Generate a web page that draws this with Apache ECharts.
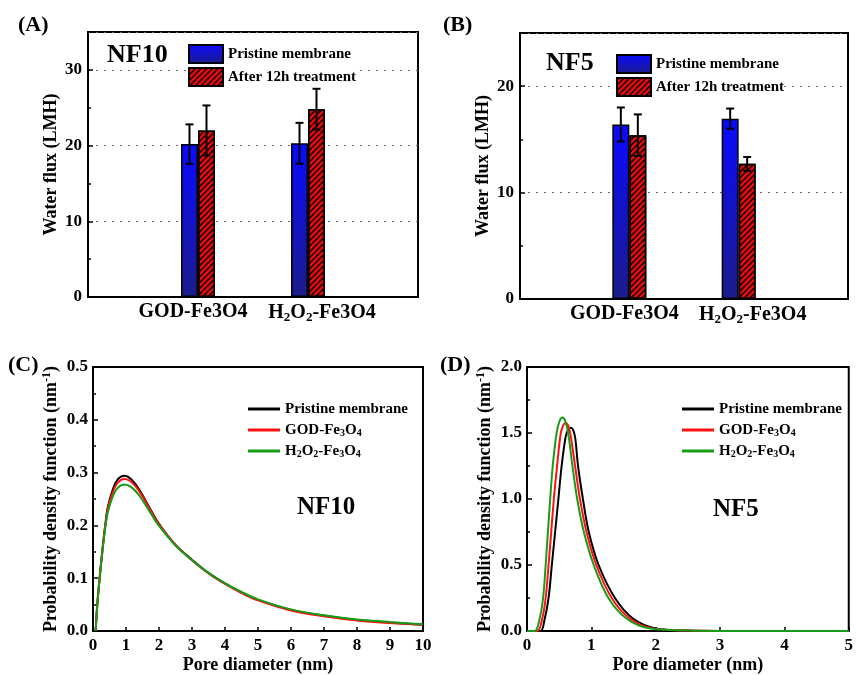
<!DOCTYPE html>
<html>
<head>
<meta charset="utf-8">
<script src="https://cdn.jsdelivr.net/npm/echarts@6/dist/echarts.min.js"></script>
<style>
  html, body { margin: 0; padding: 0; background: #fff; }
  #chart { width: 856px; height: 675px; }
</style>
</head>
<body>
<div id="chart"></div>
<script>
// bar categories (empty slots at both ends so groups sit at 1/3 and 2/3)
const barCats = ['', 'GOD', 'H2O2', ''];
const barLegend = ['Pristine membrane', 'After 12h treatment'];

// NF10 water flux (LMH)
const nf10Pristine = [null, 20.2, 20.3, null];
const nf10PristineErr = [null, 2.6, 2.7, null];
const nf10Treated = [null, 22.0, 24.8, null];
const nf10TreatedErr = [null, 3.3, 2.7, null];

// NF5 water flux (LMH)
const nf5Pristine = [null, 16.4, 16.95, null];
const nf5PristineErr = [null, 1.6, 0.95, null];
const nf5Treated = [null, 15.4, 12.7, null];
const nf5TreatedErr = [null, 1.95, 0.65, null];

// pore size distribution, [pore diameter nm, pdf nm^-1]
const nf10Black = [[0.08,0],[0.13,0.05],[0.2,0.1],[0.28,0.15],[0.37,0.2],[0.45,0.235],[0.6,0.268],[0.75,0.287],[0.95,0.294],[1.15,0.288],[1.4,0.268],[1.7,0.235],[2.0,0.203],[2.5,0.163],[3.0,0.135],[3.5,0.11],[4.0,0.09],[4.5,0.073],[5,0.059],[6,0.04],[7,0.029],[8,0.021],[9,0.016],[10,0.012]];
const nf10Red = [[0.08,0],[0.13,0.05],[0.2,0.1],[0.28,0.15],[0.37,0.198],[0.45,0.232],[0.6,0.263],[0.75,0.281],[0.95,0.288],[1.15,0.283],[1.4,0.265],[1.7,0.233],[2.0,0.202],[2.5,0.163],[3,0.134],[3.5,0.109],[4,0.089],[4.5,0.072],[5,0.058],[6,0.039],[7,0.028],[8,0.02],[9,0.015],[10,0.012]];
const nf10Green = [[0.08,0],[0.13,0.049],[0.2,0.098],[0.28,0.148],[0.37,0.195],[0.45,0.225],[0.6,0.255],[0.75,0.271],[0.95,0.2775],[1.15,0.273],[1.4,0.257],[1.7,0.228],[2.0,0.199],[2.5,0.162],[3,0.134],[3.5,0.11],[4,0.09],[4.5,0.074],[5,0.06],[6,0.041],[7,0.03],[8,0.022],[9,0.017],[10,0.013]];

const nf5Black = [[0,0],[0.21,0],[0.27,0.08],[0.335,0.25],[0.386,0.5],[0.437,0.75],[0.488,1.0],[0.538,1.25],[0.6,1.47],[0.64,1.525],[0.68,1.54],[0.715,1.525],[0.75,1.46],[0.793,1.25],[0.869,1.0],[0.96,0.75],[1.113,0.5],[1.367,0.25],[1.646,0.095],[2.0,0.02],[2.5,0.003],[3,0],[5,0]];
const nf5Red = [[0,0],[0.16,0],[0.23,0.08],[0.29,0.25],[0.335,0.5],[0.376,0.75],[0.417,1.0],[0.467,1.25],[0.525,1.5],[0.565,1.56],[0.6,1.575],[0.64,1.555],[0.675,1.49],[0.747,1.25],[0.823,1.0],[0.925,0.75],[1.077,0.5],[1.316,0.25],[1.596,0.095],[1.95,0.02],[2.5,0.003],[3,0],[5,0]];
const nf5Green = [[0,0],[0.12,0],[0.19,0.08],[0.25,0.25],[0.29,0.5],[0.325,0.75],[0.36,1.0],[0.40,1.25],[0.46,1.5],[0.51,1.595],[0.553,1.617],[0.595,1.59],[0.64,1.5],[0.706,1.25],[0.78,1.0],[0.884,0.75],[1.037,0.5],[1.265,0.25],[1.545,0.095],[1.9,0.02],[2.5,0.003],[3,0],[5,0]];

const FONT = 'Liberation Serif';
const bold = (size) => ({ fontFamily: FONT, fontWeight: 'bold', fontSize: size, color: '#000' });

const blueFill = {
  type: 'linear', x: 0, y: 0, x2: 0, y2: 1,
  colorStops: [{ offset: 0, color: '#0a0aff' }, { offset: 1, color: '#1c1c8c' }]
};
const hatch = {
  symbol: 'rect', symbolSize: 1, color: 'rgba(30,0,0,0.9)',
  dashArrayX: [1, 0], dashArrayY: [1.5, 1.8], rotation: -Math.PI / 4
};

// x labels with subscripts; the labels in the figure sit a bit off the bar groups
const barLabelRich = {
  g: Object.assign(bold(20), { padding: [0, 10, 0, 0] }),
  h: Object.assign(bold(20), { padding: [0, 0, 0, 28] }),
  b: bold(20),
  s: Object.assign(bold(13), { padding: [9, 0, 0, 0] })
};
function barLabel(v) {
  if (v === 'GOD') return '{g|GOD-Fe3O4}';
  if (v === 'H2O2') return '{h|H}{s|2}{b|O}{s|2}{b|-Fe3O4}';
  return '';
}
const lineNames = { Pristine: 'Pristine membrane', GOD: 'GOD-Fe{s|3}O{s|4}', H2O2: 'H{s|2}O{s|2}-Fe{s|3}O{s|4}' };

function barXAxis(idx) {
  return {
    gridIndex: idx, type: 'category', data: barCats, boundaryGap: false,
    axisLine: { lineStyle: { color: '#000', width: 2 } },
    axisTick: { show: false },
    axisLabel: { interval: 0, margin: 5, formatter: barLabel, rich: barLabelRich, color: '#000' },
    splitLine: { show: false }
  };
}
function barYAxis(idx, max) {
  return {
    gridIndex: idx, type: 'value', min: 0, max: max, interval: 10,
    name: 'Water flux (LMH)', nameLocation: 'middle', nameGap: 28, nameTextStyle: bold(18),
    axisLine: { show: true, lineStyle: { color: '#000', width: 2 } },
    axisTick: { show: true, inside: true, length: 5, lineStyle: { color: '#000', width: 1.5 } },
    minorTick: { show: true, splitNumber: 2, length: 3, lineStyle: { color: '#000', width: 1.5 } },
    axisLabel: Object.assign(bold(17), { margin: 6, showMaxLabel: false }),
    splitLine: { show: true, lineStyle: { color: '#666', width: 1.2, type: [2, 6] } }
  };
}
function pdfXAxis(idx, max) {
  return {
    gridIndex: idx, type: 'value', min: 0, max: max, interval: 1,
    name: 'Pore diameter (nm)', nameLocation: 'middle', nameGap: 25, nameTextStyle: bold(18),
    axisLine: { onZero: false, lineStyle: { color: '#000', width: 2 } },
    axisTick: { inside: true, length: 4, lineStyle: { color: '#000', width: 1.5 } },
    axisLabel: Object.assign(bold(17), { margin: 6 }),
    splitLine: { show: false }
  };
}
function pdfYAxis(idx, max, interval) {
  return {
    gridIndex: idx, type: 'value', min: 0, max: max, interval: interval,
    name: 'Probability density function (nm{sup|-1})', nameLocation: 'middle', nameGap: 31,
    nameTextStyle: Object.assign(bold(18), { rich: { sup: Object.assign(bold(12), { padding: [0, 0, 9, 0] }) } }),
    axisLine: { show: true, lineStyle: { color: '#000', width: 2 } },
    axisTick: { show: true, inside: true, length: 5, lineStyle: { color: '#000', width: 1.5 } },
    minorTick: { show: true, splitNumber: 2, length: 3, lineStyle: { color: '#000', width: 1.5 } },
    axisLabel: Object.assign(bold(17), { margin: 5, formatter: (v) => v.toFixed(1) }),
    splitLine: { show: false }
  };
}

function barSeries(idx, name, vals, style) {
  return {
    type: 'bar', name: name, xAxisIndex: idx, yAxisIndex: idx, data: vals,
    barWidth: 17, barGap: '0%', z: 2,
    itemStyle: Object.assign({ borderColor: '#000', borderWidth: 1.5 }, style)
  };
}
function errSeries(idx, vals, errs, shift) {
  const data = [];
  vals.forEach((v, i) => { if (v != null) data.push([i, v, errs[i]]); });
  return {
    type: 'custom', xAxisIndex: idx, yAxisIndex: idx, z: 5, silent: true, data: data,
    renderItem: function (params, api) {
      const top = api.coord([api.value(0), api.value(1) + api.value(2)]);
      const bot = api.coord([api.value(0), api.value(1) - api.value(2)]);
      const x = top[0] + shift;
      const cap = 4;
      const st = { stroke: '#000', lineWidth: 2 };
      return {
        type: 'group', children: [
          { type: 'line', shape: { x1: x, y1: top[1], x2: x, y2: bot[1] }, style: st },
          { type: 'line', shape: { x1: x - cap, y1: top[1], x2: x + cap, y2: top[1] }, style: st },
          { type: 'line', shape: { x1: x - cap, y1: bot[1], x2: x + cap, y2: bot[1] }, style: st }
        ]
      };
    }
  };
}
function pdfSeries(idx, name, color, data) {
  return {
    type: 'line', name: name, xAxisIndex: idx, yAxisIndex: idx, data: data,
    symbol: 'none', showSymbol: false, smooth: 0.35,
    lineStyle: { color: color, width: 2 }, itemStyle: { color: color }
  };
}

const titleAt = (text, left, top, size) => ({ text: text, left: left, top: top, padding: 0, textStyle: bold(size) });

function barLegendAt(left, top) {
  return {
    data: barLegend, orient: 'vertical', left: left, top: top, padding: 0, icon: 'rect',
    itemWidth: 34, itemHeight: 18, itemGap: 3, backgroundColor: '#fff',
    selectedMode: false, textStyle: bold(15)
  };
}
function lineLegendAt(left, top) {
  return {
    data: ['Pristine', 'GOD', 'H2O2'], orient: 'vertical', left: left, top: top, padding: 0,
    icon: 'rect', itemWidth: 32, itemHeight: 3, itemGap: 3, selectedMode: false,
    formatter: (n) => lineNames[n],
    textStyle: Object.assign(bold(15), { lineHeight: 18, rich: { s: Object.assign(bold(10), { padding: [7, 0, 0, 0] }) } })
  };
}

const gridBox = { show: true, borderColor: '#000', borderWidth: 2, backgroundColor: 'transparent' };

const option = {
  animation: false,
  textStyle: { fontFamily: FONT },
  title: [
    titleAt('(A)', 18, 14, 22), titleAt('(B)', 443, 14, 22),
    titleAt('(C)', 8, 354, 22), titleAt('(D)', 440, 354, 22),
    titleAt('NF10', 107, 42, 26), titleAt('NF5', 546, 50, 26),
    titleAt('NF10', 297, 495, 25), titleAt('NF5', 713, 497, 25)
  ],
  legend: [barLegendAt(188, 44), barLegendAt(616, 54), lineLegendAt(248, 400), lineLegendAt(682, 400)],
  grid: [
    Object.assign({ left: 88, top: 32, width: 330, height: 265 }, gridBox),
    Object.assign({ left: 520, top: 33, width: 328, height: 266 }, gridBox),
    Object.assign({ left: 93, top: 367, width: 330, height: 266 }, gridBox),
    Object.assign({ left: 527, top: 367, width: 328, height: 266 }, gridBox)
  ],
  xAxis: [barXAxis(0), barXAxis(1), pdfXAxis(2, 10), pdfXAxis(3, 5)],
  yAxis: [barYAxis(0, 35), barYAxis(1, 25), pdfYAxis(2, 0.5, 0.1), pdfYAxis(3, 2, 0.5)],
  series: [
    barSeries(0, barLegend[0], nf10Pristine, { color: blueFill }),
    barSeries(0, barLegend[1], nf10Treated, { color: '#ff0a0a', decal: hatch }),
    errSeries(0, nf10Pristine, nf10PristineErr, -8.5),
    errSeries(0, nf10Treated, nf10TreatedErr, 8.5),
    barSeries(1, barLegend[0], nf5Pristine, { color: blueFill }),
    barSeries(1, barLegend[1], nf5Treated, { color: '#ff0a0a', decal: hatch }),
    errSeries(1, nf5Pristine, nf5PristineErr, -8.5),
    errSeries(1, nf5Treated, nf5TreatedErr, 8.5),
    pdfSeries(2, 'Pristine', '#000000', nf10Black),
    pdfSeries(2, 'GOD', '#ff1010', nf10Red),
    pdfSeries(2, 'H2O2', '#169c16', nf10Green),
    pdfSeries(3, 'Pristine', '#000000', nf5Black),
    pdfSeries(3, 'GOD', '#ff1010', nf5Red),
    pdfSeries(3, 'H2O2', '#169c16', nf5Green)
  ]
};

const myChart = echarts.init(document.getElementById('chart'));
myChart.setOption(option);
window.addEventListener('resize', () => { myChart.resize(); });
</script>
</body>
</html>
